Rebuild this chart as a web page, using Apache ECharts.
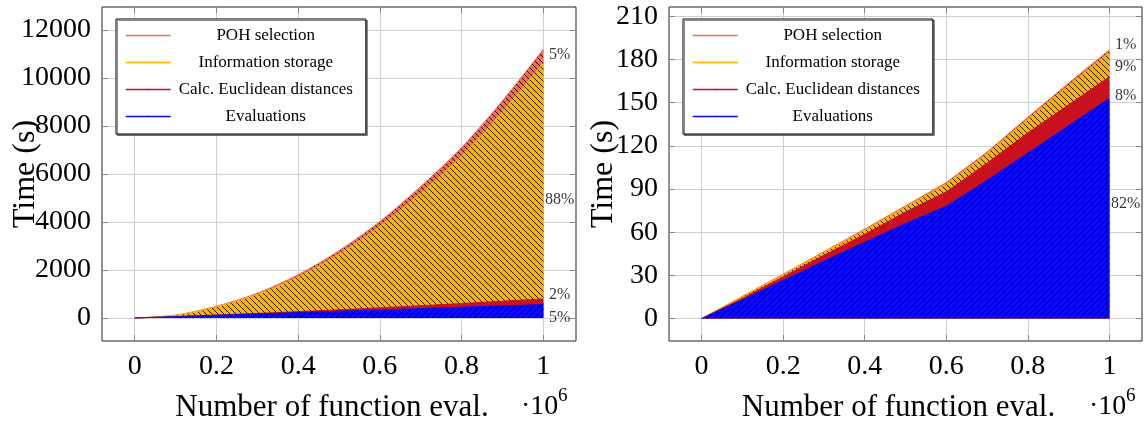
<!DOCTYPE html>
<html>
<head>
<meta charset="utf-8">
<script src="https://cdn.jsdelivr.net/npm/echarts@6/dist/echarts.min.js"></script>
<style>
html, body { margin: 0; padding: 0; background: #fff; }
#main { width: 1145px; height: 421px; }
</style>
</head>
<body>
<div id="main"></div>
<script>
// number of function evaluations (x 10^6)
var xs = [0, 0.1, 0.2, 0.3, 0.4, 0.5, 0.6, 0.7, 0.8, 0.9, 1];

// left chart (s), one array per layer, bottom layer first
var leftEval = [0, 55, 112, 168, 225, 280, 336, 392, 448, 504, 560];
var leftDist = [0, 3, 10, 21, 38, 60, 86, 117, 153, 194, 235];
var leftInfo = [0, 56, 344, 789, 1447, 2320, 3398, 4696, 6144, 7897, 9845];
var leftPoh = [0, 6, 24, 52, 90, 140, 200, 275, 355, 455, 560];

// right chart (s)
var rightEval = [0, 13, 26.5, 40, 53, 66, 78, 96, 115, 134, 153];
var rightDist = [0, 1, 2.5, 4, 5.5, 8, 10, 12, 14, 14.5, 15];
var rightInfo = [0, 1.3, 1.5, 2, 3, 3.5, 5.5, 6.5, 9.5, 13.5, 16.8];
var rightPoh = [0, 0.2, 0.4, 0.5, 0.7, 0.8, 1, 1.2, 1.4, 1.6, 1.9];

// tick labels
var xTicks = [0, 0.2, 0.4, 0.6, 0.8, 1];
var leftYTicks = [0, 2000, 4000, 6000, 8000, 10000, 12000];
var rightYTicks = [0, 30, 60, 90, 120, 150, 180, 210];

// share labels at the right end
var leftPctText = ['5%', '2%', '88%', '5%'];
var leftPctY = [-10, 960, 4920, 10960];
var rightPctText = ['82%', '8%', '9%', '1%'];
var rightPctY = [79.5, 154.7, 175, 190];
var pctX = 1.04;

var names = ['Evaluations', 'Calc. Euclidean distances', 'Information storage', 'POH selection'];
var colors = ['#0a0af5', '#c8101e', '#ffb300', '#fa6a50'];
var serif = "'Liberation Serif', 'DejaVu Serif', serif";

// hatch fill like pgfplots patterns
function hatch(bg, dir) {
	var c = document.createElement('canvas');
	c.width = 6;
	c.height = 6;
	var g = c.getContext('2d');
	g.fillStyle = bg;
	g.fillRect(0, 0, 6, 6);
	g.strokeStyle = '#000';
	g.lineWidth = 0.9;
	for(var k = -6; k <= 6; k += 6) {
		g.beginPath();
		if(dir === 'nw') {
			g.moveTo(k, 0);
			g.lineTo(k + 6, 6);
		} else {
			g.moveTo(k, 6);
			g.lineTo(k + 6, 0);
		}
		g.stroke();
	}
	return { image: c, repeat: 'repeat' };
}

var fills = [hatch(colors[0], 'ne'), colors[1], hatch(colors[2], 'nw'), hatch(colors[3], 'nw')];

// running totals, so each layer's top edge sits on the one below
function cumulate(layers) {
	var run = xs.map(function() { return 0; });
	return layers.map(function(l) {
		run = run.map(function(v, i) { return v + l[i]; });
		return run.slice();
	});
}

function areaSeries(idx, tops, gi, smooth) {
	return {
		name: names[idx],
		type: 'line',
		xAxisIndex: gi * 2,
		yAxisIndex: gi * 2,
		data: xs.map(function(x, i) { return [x, tops[i]]; }),
		symbol: 'none',
		smooth: smooth,
		lineStyle: { color: colors[idx], width: 1 },
		itemStyle: { color: colors[idx] },
		areaStyle: { color: fills[idx], opacity: 1 },
		silent: true
	};
}

// top layer first so the lower layers are painted over it
function chartSeries(layers, gi, smooth) {
	var tops = cumulate(layers);
	var out = [];
	for(var i = tops.length - 1; i >= 0; i--) {
		out.push(areaSeries(i, tops[i], gi, smooth));
	}
	return out;
}

function pctSeries(texts, ys, gi) {
	return {
		type: 'scatter',
		xAxisIndex: gi * 2,
		yAxisIndex: gi * 2,
		symbolSize: 0,
		silent: true,
		data: texts.map(function(t, i) { return { name: t, value: [pctX, ys[i]] }; }),
		label: {
			show: true,
			position: 'inside',
			formatter: '{b}',
			fontFamily: serif,
			fontSize: 16,
			color: '#000'
		},
		z: 5
	};
}

function plain(v) { return String(v); }

function xAx(gi, bottom) {
	var ax = {
		gridIndex: gi,
		type: 'value',
		min: -0.08,
		max: 1.08,
		position: bottom ? 'bottom' : 'top',
		axisLine: { show: false, onZero: false },
		axisTick: { show: true, inside: true, length: 6, customValues: xTicks, lineStyle: { color: '#888' } },
		axisLabel: { show: bottom, customValues: xTicks, formatter: plain, fontFamily: serif, fontSize: 28, color: '#000', margin: 12 },
		splitLine: { show: bottom, lineStyle: { color: '#cfcfcf', width: 1 } }
	};
	if(bottom) {
		ax.name = 'Number of function eval.';
		ax.nameLocation = 'middle';
		ax.nameGap = 51;
		ax.nameMoveOverlap = false;
		ax.nameTextStyle = { fontFamily: serif, fontSize: 31, color: '#000', padding: [0, 14, 0, 0] };
	}
	return ax;
}

function yAx(gi, left, min, max, ticks, gap) {
	var ax = {
		gridIndex: gi,
		type: 'value',
		min: min,
		max: max,
		position: left ? 'left' : 'right',
		axisLine: { show: false, onZero: false },
		axisTick: { show: true, inside: true, length: 6, customValues: ticks, lineStyle: { color: '#888' } },
		axisLabel: { show: left, customValues: ticks, formatter: plain, fontFamily: serif, fontSize: 28, color: '#000', margin: 11 },
		splitLine: { show: left, lineStyle: { color: '#cfcfcf', width: 1 } }
	};
	if(left) {
		ax.name = 'Time (s)';
		ax.nameLocation = 'middle';
		ax.nameGap = gap;
		ax.nameMoveOverlap = false;
		ax.nameTextStyle = { fontFamily: serif, fontSize: 32, color: '#000' };
	}
	return ax;
}

function legendCfg(left) {
	return {
		left: left,
		top: 19,
		orient: 'vertical',
		backgroundColor: '#fff',
		borderColor: '#000',
		borderWidth: 1,
		shadowColor: 'rgba(0,0,0,0.45)',
		shadowOffsetX: 1.5,
		shadowOffsetY: 1.5,
		shadowBlur: 0,
		padding: [8, 13, 9, 9],
		itemWidth: 45,
		itemHeight: 2,
		itemGap: 10,
		lineStyle: { width: 1.5 },
		selectedMode: false,
		formatter: function(n) { return '{c|' + n + '}'; },
		textStyle: {
			color: '#000',
			fontFamily: serif,
			fontSize: 17,
			rich: { c: { width: 180, height: 18, align: 'center', fontFamily: serif, fontSize: 17, color: '#000' } }
		},
		data: [3, 2, 1, 0].map(function(i) {
			return { name: names[i], itemStyle: { color: colors[i] }, lineStyle: { color: colors[i], width: 1.5 } };
		})
	};
}

function pow10(x) {
	return [
		{ type: 'text', left: x, top: 393, style: { text: '\u00b710', font: '28px ' + serif, fill: '#000' } },
		{ type: 'text', left: x + 37, top: 387, style: { text: '6', font: '19px ' + serif, fill: '#000' } }
	];
}

var option = {
	animation: false,
	backgroundColor: '#fff',
	grid: [
		{ left: 102, top: 7, width: 474, height: 334, show: true, borderColor: '#222', borderWidth: 1, containLabel: false, outerBoundsMode: 'none' },
		{ left: 669, top: 7, width: 473, height: 334, show: true, borderColor: '#222', borderWidth: 1, containLabel: false, outerBoundsMode: 'none' }
	],
	xAxis: [xAx(0, true), xAx(0, false), xAx(1, true), xAx(1, false)],
	yAxis: [
		yAx(0, true, -960, 12960, leftYTicks, 60),
		yAx(0, false, -960, 12960, leftYTicks),
		yAx(1, true, -15.6, 216.5, rightYTicks, 49),
		yAx(1, false, -15.6, 216.5, rightYTicks)
	],
	legend: [legendCfg(116), legendCfg(683)],
	graphic: pow10(521).concat(pow10(1089)),
	series: chartSeries([leftEval, leftDist, leftInfo, leftPoh], 0, 0.3)
		.concat([pctSeries(leftPctText, leftPctY, 0)])
		.concat(chartSeries([rightEval, rightDist, rightInfo, rightPoh], 1, false))
		.concat([pctSeries(rightPctText, rightPctY, 1)])
};

var chart = echarts.init(document.getElementById('main'));
chart.setOption(option);
</script>
</body>
</html>
